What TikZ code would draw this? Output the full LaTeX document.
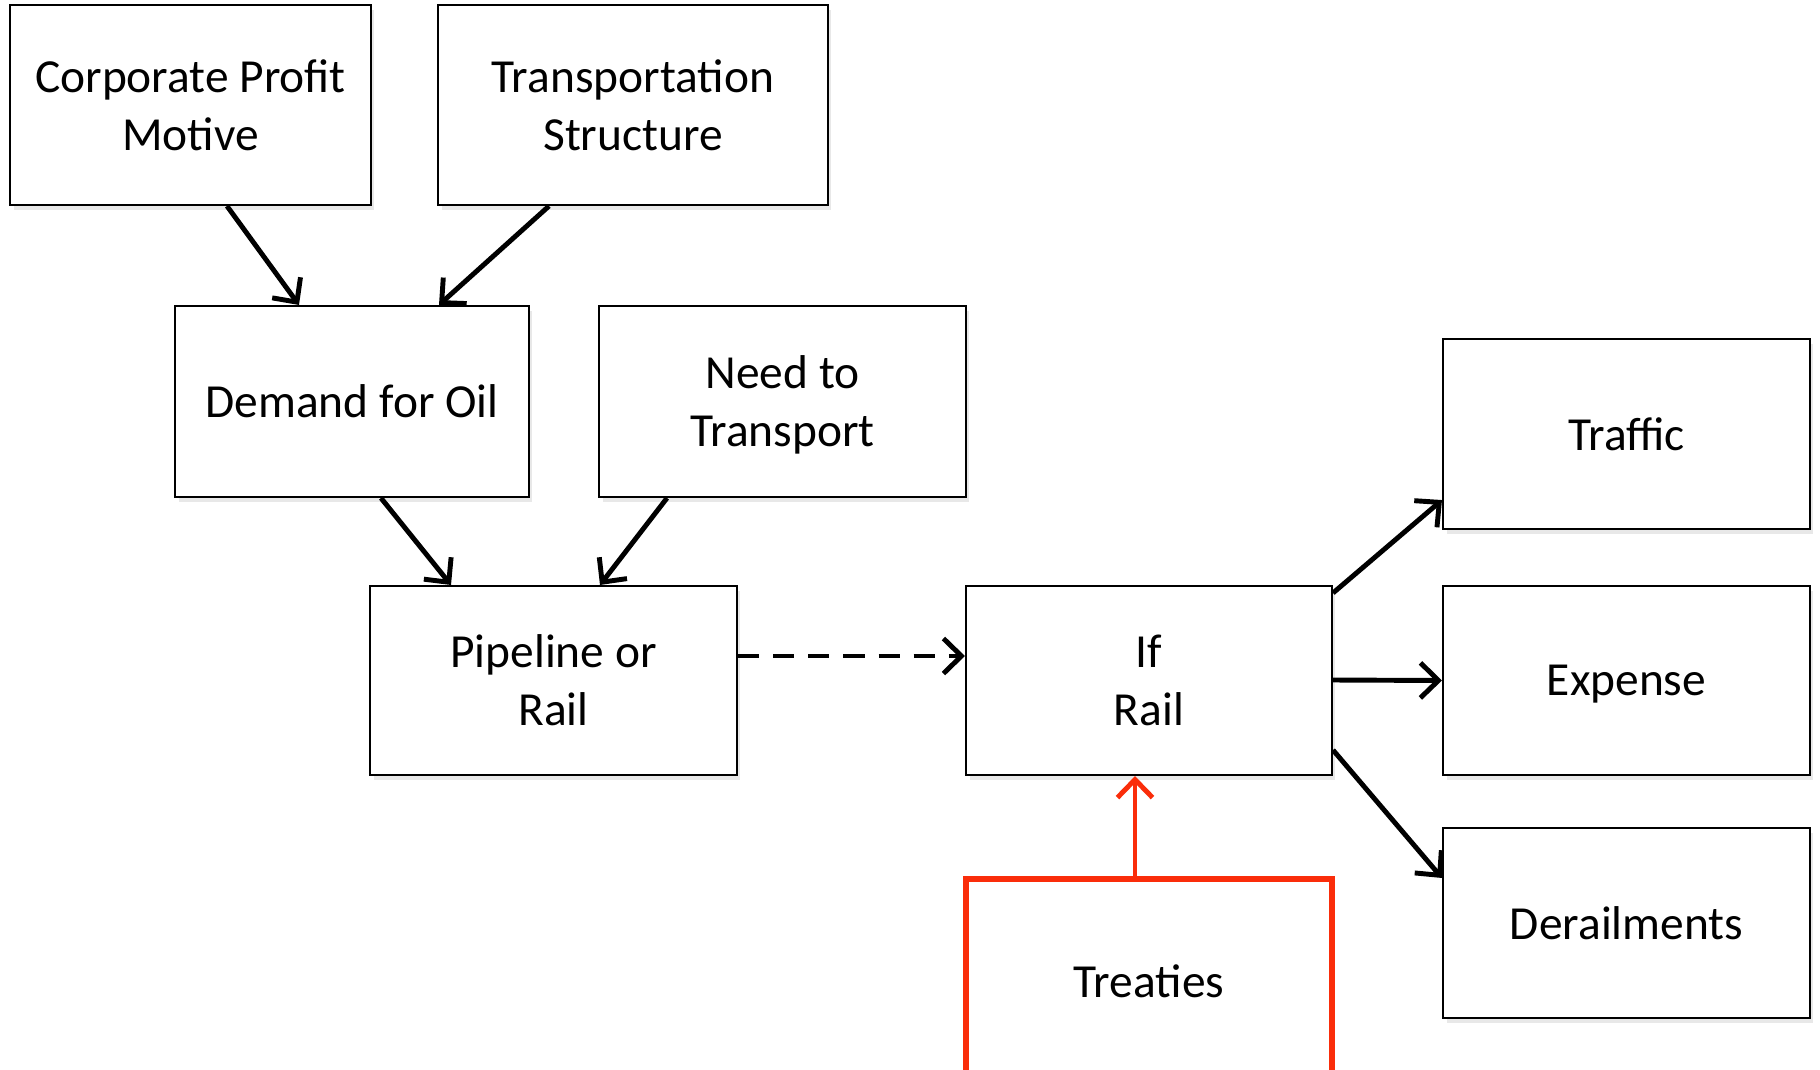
\documentclass[tikz,border=0pt]{standalone}
\usepackage{fontspec}
\setmainfont{Carlito}
\usetikzlibrary{arrows.meta,calc,shadows}
\definecolor{treatyred}{RGB}{250,45,10}

\begin{document}
\begin{tikzpicture}[x=0.02cm,y=-0.02cm,
    box/.style={draw,line width=1.2pt,fill=white,align=center,inner sep=0pt,
        font=\fontsize{27}{33}\selectfont,text depth=0pt,
        drop shadow={opacity=0.18,shadow xshift=2pt,shadow yshift=-3pt}},
    link/.style={line width=2.8pt,-{Straight Barb[length=3.6mm,width=7mm,line width=2.8pt]}}]

\clip (0,0) rectangle (1820,1069);
\fill[white] (0,0) rectangle (1820,1069);

    \node[box,minimum width=7.22cm,minimum height=4cm] (profit) at (190.5,105) {Corporate Profit\\Motive};
    \node[box,minimum width=7.8cm,minimum height=4cm] (structure) at (633,105) {Transportation\\Structure};
    \node[box,minimum width=7.08cm,minimum height=3.82cm] (demand) at (352,401.5) {Demand for Oil};
    \node[box,minimum width=7.34cm,minimum height=3.82cm] (need) at (782.5,401.5) {Need to\\Transport};
    \node[box,minimum width=7.34cm,minimum height=3.78cm] (pipeline) at (553.5,680.5) {Pipeline or\\Rail};
    \node[box,minimum width=7.32cm,minimum height=3.78cm] (ifrail) at (1149,680.5) {If\\Rail};
    \node[box,minimum width=7.34cm,minimum height=3.8cm] (traffic) at (1626.5,434) {Traffic};
    \node[box,minimum width=7.34cm,minimum height=3.78cm] (expense) at (1626.5,680.5) {Expense};
    \node[box,minimum width=7.34cm,minimum height=3.8cm] (derail) at (1626.5,923) {Derailments};
    \node[box,draw=treatyred,line width=3.2pt,minimum width=7.32cm,minimum height=4.1cm] (treaties) at (1149,981.5) {Treaties};

\draw [link] ($(profit.south)+(36.5,0)$) -- ($(demand.north)+(-53,0)$);
\draw [link] ($(structure.south)+(-84,0)$) -- ($(demand.north)+(87,0)$);
\draw [link] ($(demand.south)+(29,0)$) -- ($(pipeline.north)+(-102.5,0)$);
\draw [link] ($(need.south)+(-115.5,0)$) -- ($(pipeline.north)+(46.5,0)$);
\draw [link,dash pattern=on 12pt off 8pt] ($(pipeline.east)+(0,-24.5)$) -- ($(ifrail.west)+(0,-24.5)$);
\draw [link] ($(ifrail.north east)+(0,8)$) -- ($(traffic.south west)+(0,-30)$);
\draw [link] ($(ifrail.east)+(0,-0.5)$) -- (expense.west);
\draw [link] ($(ifrail.south east)+(0,-26)$) -- ($(derail.north west)+(0,51)$);
\draw [link,draw=treatyred,line width=2.2pt] ($(treaties.north)+(-14,0)$) -- ($(ifrail.south)+(-14,0)$);
\end{tikzpicture}
\end{document}
